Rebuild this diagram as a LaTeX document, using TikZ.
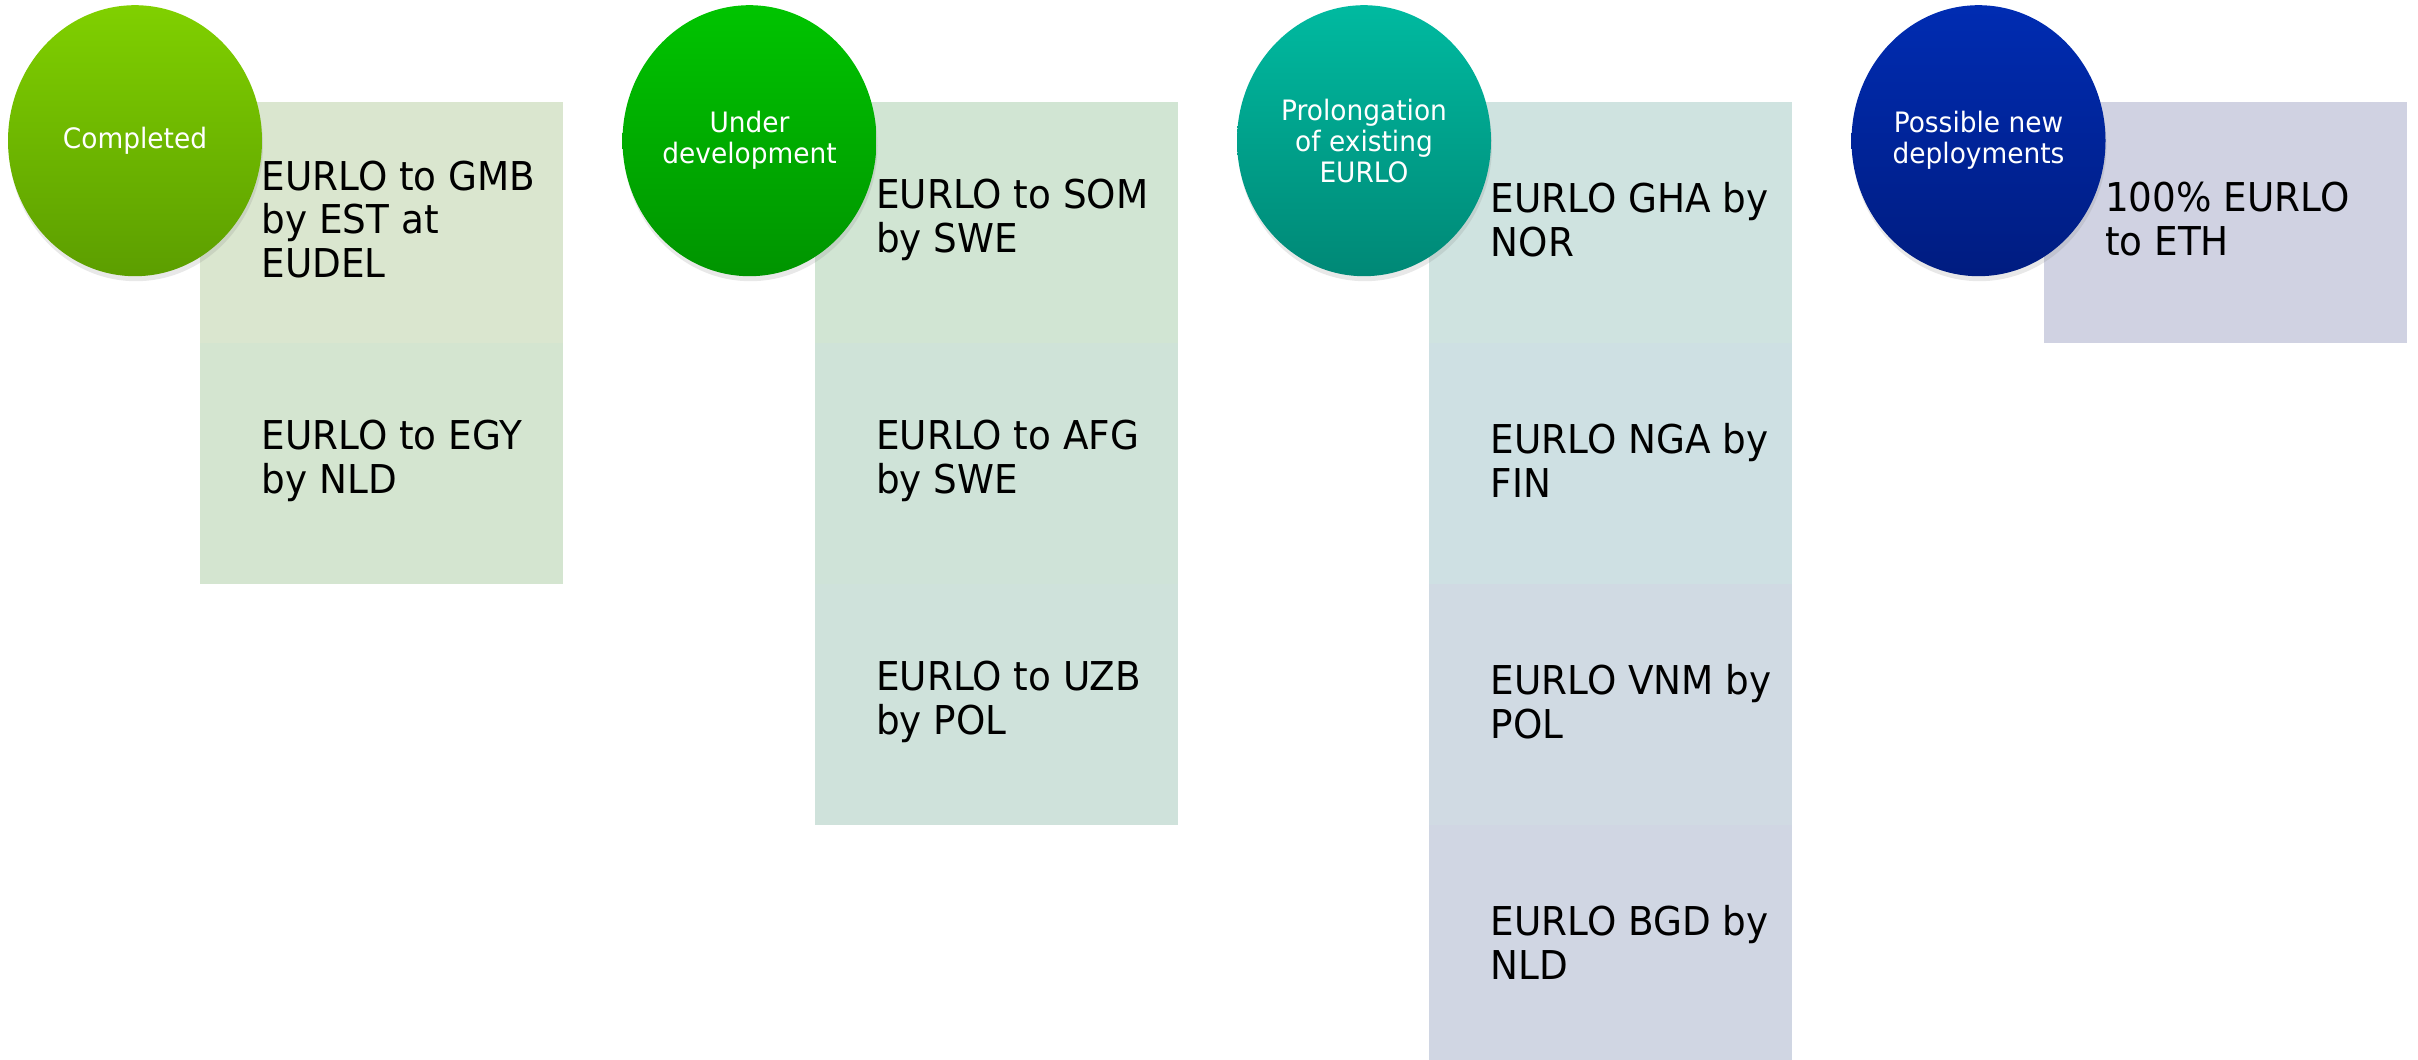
\documentclass[tikz,border=0pt]{standalone}
\usepackage{fontspec}
\setmainfont{DejaVu Sans}[FakeStretch=0.94]
\usepackage{xcolor}
\usepackage{tikz}
\usetikzlibrary{shapes.geometric, positioning, shadows}

\definecolor{doneTop}{RGB}{128,208,0}
\definecolor{doneBot}{RGB}{92,158,0}
\definecolor{devTop}{RGB}{0,196,0}
\definecolor{devBot}{RGB}{0,148,0}
\definecolor{prolTop}{RGB}{0,186,160}
\definecolor{prolBot}{RGB}{0,136,118}
\definecolor{newTop}{RGB}{0,44,178}
\definecolor{newBot}{RGB}{0,28,128}
\definecolor{cellA}{RGB}{218,230,207}
\definecolor{cellB}{RGB}{212,229,208}
\definecolor{cellC}{RGB}{209,229,211}
\definecolor{cellD}{RGB}{207,227,216}
\definecolor{cellE}{RGB}{207,226,219}
\definecolor{cellF}{RGB}{207,227,224}
\definecolor{cellG}{RGB}{206,224,227}
\definecolor{cellH}{RGB}{208,218,227}
\definecolor{cellI}{RGB}{208,214,227}
\definecolor{cellJ}{RGB}{208,210,226}

\tikzset{
    stagecircle/.style={ellipse, minimum width=2.54cm, minimum height=2.71cm, inner sep=0pt,
        align=center, text=white, font=\fontsize{8}{8.8}\selectfont,
        drop shadow={shadow xshift=0.01cm, shadow yshift=-0.05cm, opacity=0.18}},
    itemcell/.style={rectangle, minimum width=3.63cm, minimum height=2.41cm, inner sep=0pt,
        outer sep=0pt, fill=#1},
    itemtext/.style={inner sep=0pt, align=left, text=black, yshift=0.03cm,
        font=\fontsize{11.3}{12.5}\selectfont},
}

\begin{document}
\begin{tikzpicture}
    \useasboundingbox (0,0) rectangle (24.18,-10.60);

    % Completed
    \node[itemcell=cellA, anchor=north west] (done1) at (2.00,-1.02) {};
    \node[itemcell=cellB, below=0pt of done1] (done2) {};
    \node[itemtext, right=0.61cm of done1.west] (done1t) {EURLO to GMB\\by EST at\\EUDEL};
    \node[itemtext, right=0.61cm of done2.west] (done2t) {EURLO to EGY\\by NLD};
    \node[stagecircle, top color=doneTop, bottom color=doneBot] (done) at (1.35,-1.407) {Completed};

    % Under development
    \node[itemcell=cellC, anchor=north west] (dev1) at (8.145,-1.02) {};
    \node[itemcell=cellD, below=0pt of dev1] (dev2) {};
    \node[itemcell=cellE, below=0pt of dev2] (dev3) {};
    \node[itemtext, right=0.61cm of dev1.west] (dev1t) {EURLO to SOM\\by SWE};
    \node[itemtext, right=0.61cm of dev2.west] (dev2t) {EURLO to AFG\\by SWE};
    \node[itemtext, right=0.61cm of dev3.west] (dev3t) {EURLO to UZB\\by POL};
    \node[stagecircle, top color=devTop, bottom color=devBot] (dev) at (7.495,-1.407) {Under\\development};

    % Prolongation
    \node[itemcell=cellF, anchor=north west] (prol1) at (14.29,-1.02) {};
    \node[itemcell=cellG, below=0pt of prol1] (prol2) {};
    \node[itemcell=cellH, below=0pt of prol2] (prol3) {};
    \node[itemcell=cellI, below=0pt of prol3] (prol4) {};
    \node[itemtext, right=0.61cm of prol1.west] (prol1t) {EURLO GHA by\\NOR};
    \node[itemtext, right=0.61cm of prol2.west] (prol2t) {EURLO NGA by\\FIN};
    \node[itemtext, right=0.61cm of prol3.west] (prol3t) {EURLO VNM by\\POL};
    \node[itemtext, right=0.61cm of prol4.west] (prol4t) {EURLO BGD by\\NLD};
    \node[stagecircle, top color=prolTop, bottom color=prolBot] (prol) at (13.64,-1.407) {Prolongation\\of existing\\EURLO};

    % Possible new
    \node[itemcell=cellJ, anchor=north west] (new1) at (20.435,-1.02) {};
    \node[itemtext, right=0.61cm of new1.west] (new1t) {100\% EURLO\\to ETH};
    \node[stagecircle, top color=newTop, bottom color=newBot] (new) at (19.785,-1.407) {Possible new\\deployments};
\end{tikzpicture}
\end{document}
